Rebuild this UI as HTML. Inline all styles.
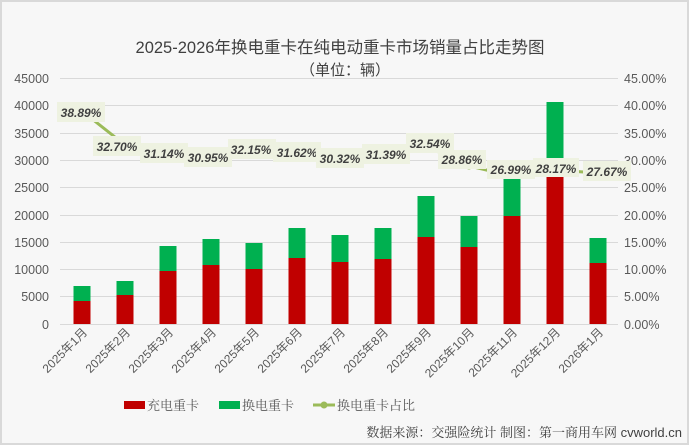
<!DOCTYPE html>
<html><head><meta charset="utf-8"><style>
html,body{margin:0;padding:0;background:#fff;}
svg{display:block;}
</style></head><body>
<svg width="689" height="445" xmlns="http://www.w3.org/2000/svg" font-family="Liberation Sans, Noto Sans CJK SC, sans-serif">
<rect x="1" y="1" width="687" height="443" fill="#f7f7f7" stroke="#d9d9d9" stroke-width="2"/>
<text x="340" y="53" font-size="16.5" fill="#404040" text-anchor="middle" font-family="Liberation Sans, Noto Sans CJK SC, sans-serif">2025-2026年换电重卡在纯电动重卡市场销量占比走势图</text>
<text x="345" y="75" font-size="15" fill="#404040" text-anchor="middle" font-family="Liberation Sans, Noto Sans CJK SC, sans-serif">（单位：辆）</text>
<g stroke="#d9d9d9" stroke-width="1">
<line x1="60" x2="618" y1="78.5" y2="78.5"/><line x1="60" x2="618" y1="105.5" y2="105.5"/><line x1="60" x2="618" y1="133.5" y2="133.5"/><line x1="60" x2="618" y1="160.5" y2="160.5"/><line x1="60" x2="618" y1="187.5" y2="187.5"/><line x1="60" x2="618" y1="215.5" y2="215.5"/><line x1="60" x2="618" y1="242.5" y2="242.5"/><line x1="60" x2="618" y1="269.5" y2="269.5"/><line x1="60" x2="618" y1="296.5" y2="296.5"/><line x1="60" x2="618" y1="324.5" y2="324.5"/>
</g>
<g font-size="12.5" fill="#595959" text-anchor="end">
<text x="49" y="83">45000</text><text x="49" y="110">40000</text><text x="49" y="138">35000</text><text x="49" y="165">30000</text><text x="49" y="192">25000</text><text x="49" y="220">20000</text><text x="49" y="247">15000</text><text x="49" y="274">10000</text><text x="49" y="301">5000</text><text x="49" y="329">0</text>
</g>
<g font-size="12.5" fill="#595959" text-anchor="start">
<text x="624" y="83">45.00%</text><text x="624" y="110">40.00%</text><text x="624" y="138">35.00%</text><text x="624" y="165">30.00%</text><text x="624" y="192">25.00%</text><text x="624" y="220">20.00%</text><text x="624" y="247">15.00%</text><text x="624" y="274">10.00%</text><text x="624" y="301">5.00%</text><text x="624" y="329">0.00%</text>
</g>
<polyline fill="none" stroke="#9bbb59" stroke-width="3" points="82,111 125,145 168,154 211,155 254,148 297,151 340,158 383,152 426,146 469,166 512,176 555,170 598,173"/>
<g fill="#9bbb59">
<circle cx="82" cy="111" r="3.5"/><circle cx="125" cy="145" r="3.5"/><circle cx="168" cy="154" r="3.5"/><circle cx="211" cy="155" r="3.5"/><circle cx="254" cy="148" r="3.5"/><circle cx="297" cy="151" r="3.5"/><circle cx="340" cy="158" r="3.5"/><circle cx="383" cy="152" r="3.5"/><circle cx="426" cy="146" r="3.5"/><circle cx="469" cy="166" r="3.5"/><circle cx="512" cy="176" r="3.5"/><circle cx="555" cy="170" r="3.5"/><circle cx="598" cy="173" r="3.5"/>
</g>
<g>
<rect x="73.5" y="286" width="17" height="15" fill="#00b050"/><rect x="73.5" y="301" width="17" height="23" fill="#c00000"/>
<rect x="116.5" y="281" width="17" height="14" fill="#00b050"/><rect x="116.5" y="295" width="17" height="29" fill="#c00000"/>
<rect x="159.5" y="246" width="17" height="25" fill="#00b050"/><rect x="159.5" y="271" width="17" height="53" fill="#c00000"/>
<rect x="202.5" y="239" width="17" height="26" fill="#00b050"/><rect x="202.5" y="265" width="17" height="59" fill="#c00000"/>
<rect x="245.5" y="243" width="17" height="26" fill="#00b050"/><rect x="245.5" y="269" width="17" height="55" fill="#c00000"/>
<rect x="288.5" y="228" width="17" height="30" fill="#00b050"/><rect x="288.5" y="258" width="17" height="66" fill="#c00000"/>
<rect x="331.5" y="235" width="17" height="27" fill="#00b050"/><rect x="331.5" y="262" width="17" height="62" fill="#c00000"/>
<rect x="374.5" y="228" width="17" height="31" fill="#00b050"/><rect x="374.5" y="259" width="17" height="65" fill="#c00000"/>
<rect x="417.5" y="196" width="17" height="41" fill="#00b050"/><rect x="417.5" y="237" width="17" height="87" fill="#c00000"/>
<rect x="460.5" y="216" width="17" height="31" fill="#00b050"/><rect x="460.5" y="247" width="17" height="77" fill="#c00000"/>
<rect x="503.5" y="178" width="17" height="38" fill="#00b050"/><rect x="503.5" y="216" width="17" height="108" fill="#c00000"/>
<rect x="546.5" y="102" width="17" height="75" fill="#00b050"/><rect x="546.5" y="177" width="17" height="147" fill="#c00000"/>
<rect x="589.5" y="238" width="17" height="25" fill="#00b050"/><rect x="589.5" y="263" width="17" height="61" fill="#c00000"/>
</g>
<g font-size="12" font-weight="bold" font-style="italic" fill="#404040" text-anchor="middle">
<rect x="57" y="102" width="48" height="20" fill="#eef2e1"/><text x="81" y="117">38.89%</text>
<rect x="93" y="136" width="48" height="20" fill="#eef2e1"/><text x="117" y="151">32.70%</text>
<rect x="140" y="143" width="48" height="20" fill="#eef2e1"/><text x="164" y="158">31.14%</text>
<rect x="184" y="147" width="48" height="20" fill="#eef2e1"/><text x="208" y="162">30.95%</text>
<rect x="228" y="139" width="48" height="20" fill="#eef2e1"/><text x="251" y="154">32.15%</text>
<rect x="273" y="142" width="48" height="20" fill="#eef2e1"/><text x="297" y="157">31.62%</text>
<rect x="316" y="148" width="48" height="20" fill="#eef2e1"/><text x="340" y="163">30.32%</text>
<rect x="362" y="144" width="48" height="20" fill="#eef2e1"/><text x="386" y="159">31.39%</text>
<rect x="406" y="133" width="48" height="20" fill="#eef2e1"/><text x="430" y="148">32.54%</text>
<rect x="438" y="150" width="48" height="19" fill="#eef2e1"/><text x="462" y="164">28.86%</text>
<rect x="487" y="160" width="48" height="19" fill="#eef2e1"/><text x="511" y="174">26.99%</text>
<rect x="533" y="158" width="46" height="19" fill="#eef2e1"/><text x="556" y="173">28.17%</text>
<rect x="583" y="161" width="48" height="20" fill="#eef2e1"/><text x="607" y="176">27.67%</text>
</g>
<g font-size="12" fill="#595959" text-anchor="end">
<text transform="translate(88,333) rotate(-45)">2025年1月</text>
<text transform="translate(131,333) rotate(-45)">2025年2月</text>
<text transform="translate(174,333) rotate(-45)">2025年3月</text>
<text transform="translate(217,333) rotate(-45)">2025年4月</text>
<text transform="translate(260,333) rotate(-45)">2025年5月</text>
<text transform="translate(303,333) rotate(-45)">2025年6月</text>
<text transform="translate(346,333) rotate(-45)">2025年7月</text>
<text transform="translate(389,333) rotate(-45)">2025年8月</text>
<text transform="translate(432,333) rotate(-45)">2025年9月</text>
<text transform="translate(475,333) rotate(-45)">2025年10月</text>
<text transform="translate(518,333) rotate(-45)">2025年11月</text>
<text transform="translate(561,333) rotate(-45)">2025年12月</text>
<text transform="translate(604,333) rotate(-45)">2026年1月</text>
</g>
<g font-size="13" fill="#595959" font-family="Liberation Serif, Noto Serif CJK SC, serif">
<rect x="124" y="401" width="21" height="8" fill="#c00000"/><text x="147" y="410">充电重卡</text>
<rect x="219" y="401" width="21" height="8" fill="#00b050"/><text x="242" y="410">换电重卡</text>
<line x1="313" x2="335" y1="405" y2="405" stroke="#9bbb59" stroke-width="3"/><circle cx="324" cy="405" r="3.5" fill="#9bbb59"/><text x="337" y="410">换电重卡占比</text>
</g>
<text x="682" y="437" font-size="13" fill="#404040" text-anchor="end" font-family="Liberation Sans, Noto Serif CJK SC, sans-serif">数据来源：交强险统计 制图：第一商用车网 cvworld.cn</text>
</svg>
</body></html>
